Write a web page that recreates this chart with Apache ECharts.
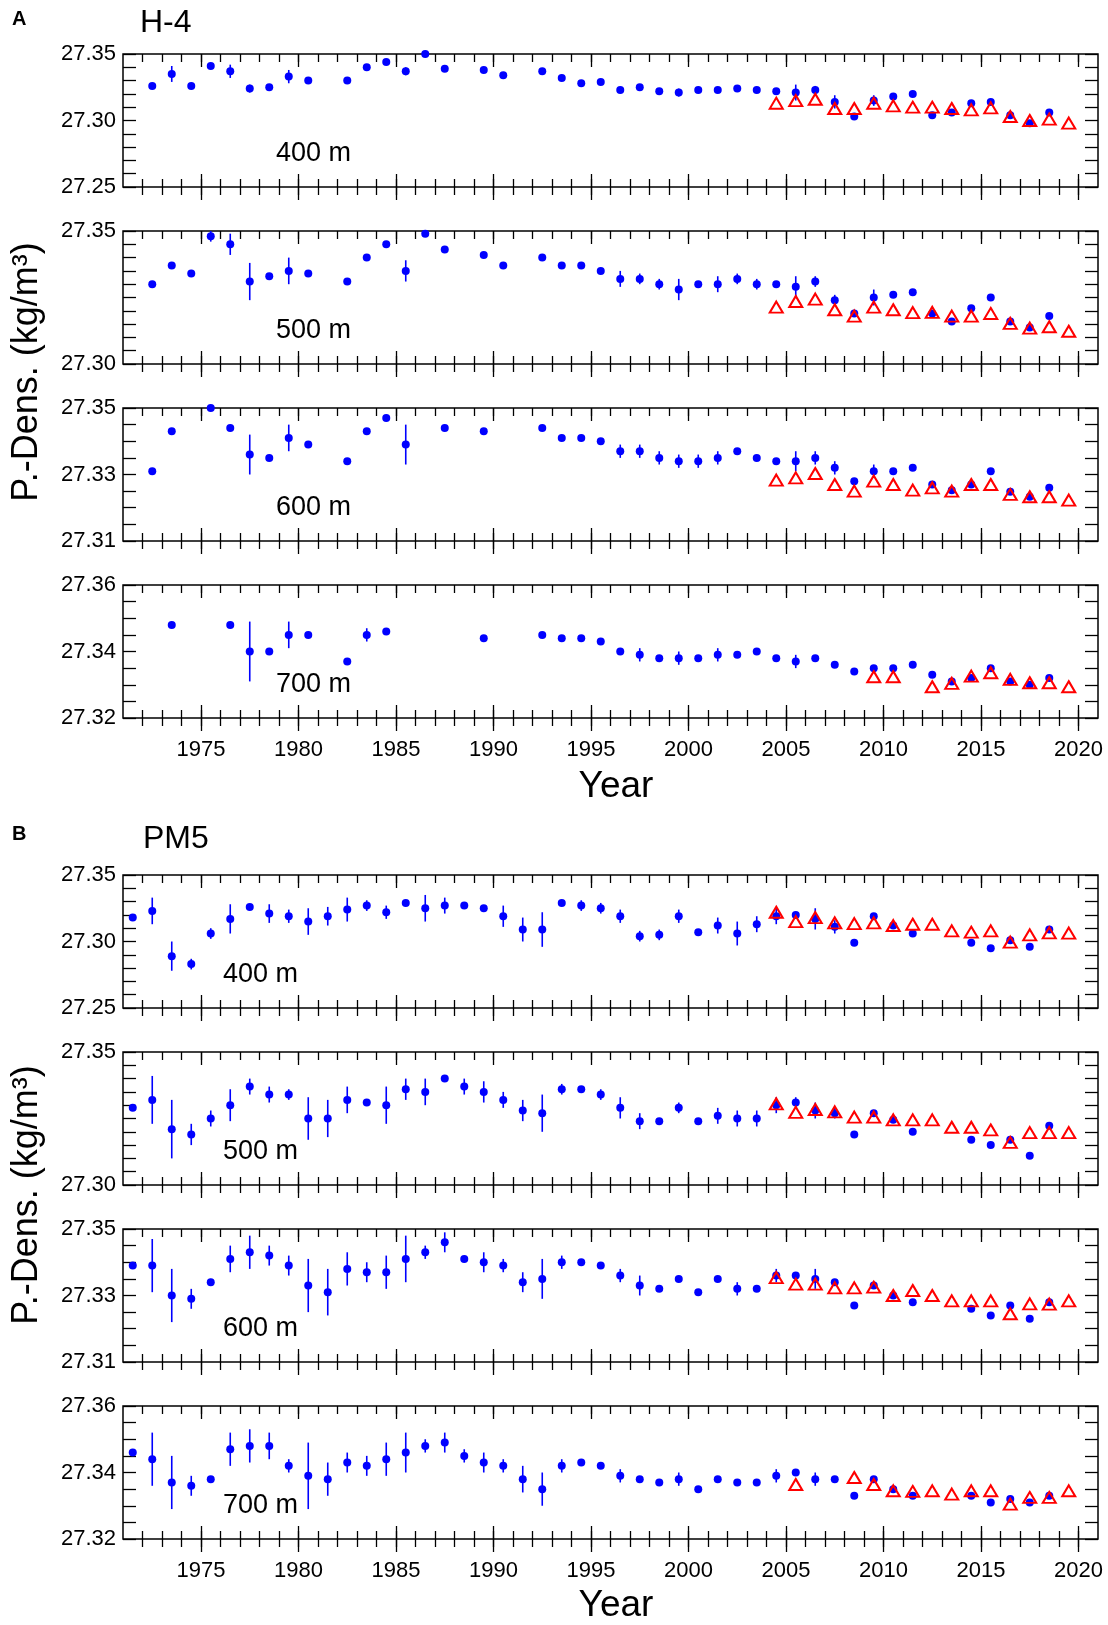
<!DOCTYPE html>
<html>
<head>
<meta charset="utf-8">
<script src="https://cdn.jsdelivr.net/npm/echarts@6/dist/echarts.min.js"></script>
<style>
  html, body { margin: 0; padding: 0; background: #fff; }
  #chart { width: 1108px; height: 1625px; }
</style>
</head>
<body>
<div id="chart"></div>
<script>
// sample positions (mid-year)
const yearsH4 = [1972.5, 1973.5, 1974.5, 1975.5, 1976.5, 1977.5, 1978.5, 1979.5, 1980.5, 1981.5,
  1982.5, 1983.5, 1984.5, 1985.5, 1986.5, 1987.5, 1988.5, 1989.5, 1990.5, 1991.5,
  1992.5, 1993.5, 1994.5, 1995.5, 1996.5, 1997.5, 1998.5, 1999.5, 2000.5, 2001.5,
  2002.5, 2003.5, 2004.5, 2005.5, 2006.5, 2007.5, 2008.5, 2009.5, 2010.5, 2011.5,
  2012.5, 2013.5, 2014.5, 2015.5, 2016.5, 2017.5, 2018.5, 2019.5];
const yearsPM5 = [1971.5, 1972.5, 1973.5, 1974.5, 1975.5, 1976.5, 1977.5, 1978.5, 1979.5, 1980.5,
  1981.5, 1982.5, 1983.5, 1984.5, 1985.5, 1986.5, 1987.5, 1988.5, 1989.5, 1990.5,
  1991.5, 1992.5, 1993.5, 1994.5, 1995.5, 1996.5, 1997.5, 1998.5, 1999.5, 2000.5,
  2001.5, 2002.5, 2003.5, 2004.5, 2005.5, 2006.5, 2007.5, 2008.5, 2009.5, 2010.5,
  2011.5, 2012.5, 2013.5, 2014.5, 2015.5, 2016.5, 2017.5, 2018.5, 2019.5];
const yearsTri = [2004.5, 2005.5, 2006.5, 2007.5, 2008.5, 2009.5, 2010.5, 2011.5,
  2012.5, 2013.5, 2014.5, 2015.5, 2016.5, 2017.5, 2018.5, 2019.5];

// x tick labels
const majorYears = [1975, 1980, 1985, 1990, 1995, 2000, 2005, 2010, 2015, 2020];
const minorYears = [1972, 1973, 1974, 1975, 1976, 1977, 1978, 1979, 1980, 1981, 1982, 1983,
  1984, 1985, 1986, 1987, 1988, 1989, 1990, 1991, 1992, 1993, 1994, 1995, 1996, 1997,
  1998, 1999, 2000, 2001, 2002, 2003, 2004, 2005, 2006, 2007, 2008, 2009, 2010, 2011,
  2012, 2013, 2014, 2015, 2016, 2017, 2018, 2019, 2020];

// y tick labels
const yTicks400 = [27.25, 27.30, 27.35];
const yTicks500 = [27.30, 27.35];
const yTicks600 = [27.31, 27.33, 27.35];
const yTicks700 = [27.32, 27.34, 27.36];

// H-4
const h4Dens400 = [27.326, 27.335, 27.326, 27.341, 27.337, 27.324, 27.325, 27.333, 27.330, null,
  27.330, 27.340, 27.344, 27.337, 27.350, 27.339, null, 27.338, 27.334, null,
  27.337, 27.332, 27.328, 27.329, 27.323, 27.325, 27.322, 27.321, 27.323, 27.323,
  27.324, 27.323, 27.322, 27.321, 27.323, 27.314, 27.303, 27.315, 27.318, 27.320,
  27.304, 27.306, 27.313, 27.314, 27.304, 27.298, 27.306, null];
const h4Err400 = [0, .006, 0, 0, .005, .003, 0, .005, 0, 0,
  0, 0, 0, .003, 0, 0, 0, 0, 0, 0,
  0, 0, 0, 0, 0, 0, 0, .003, 0, 0,
  0, 0, 0, .006, .003, .005, 0, .004, 0, 0,
  0, 0, 0, 0, 0, 0, 0, 0];
const h4Tri400 = [27.313, 27.315, 27.316, 27.309, 27.309, 27.313, 27.311, 27.310,
  27.310, 27.309, 27.308, 27.3095, 27.303, 27.300, 27.301, 27.298];

const h4Dens500 = [27.330, 27.337, 27.334, 27.348, 27.345, 27.331, 27.333, 27.335, 27.334, null,
  27.331, 27.340, 27.345, 27.335, 27.349, 27.343, null, 27.341, 27.337, null,
  27.340, 27.337, 27.337, 27.335, 27.332, 27.332, 27.330, 27.328, 27.330, 27.330,
  27.332, 27.330, 27.330, 27.329, 27.331, 27.324, 27.319, 27.325, 27.326, 27.327,
  27.319, 27.316, 27.321, 27.325, 27.316, 27.3137, 27.318, null];
const h4Err500 = [0, 0, 0, .002, .004, .007, 0, .005, 0, 0,
  0, 0, 0, .004, 0, 0, 0, 0, 0, 0,
  0, 0, 0, 0, .003, .002, .002, .004, 0, .003,
  .002, .002, 0, .004, .002, .002, 0, .003, 0, 0,
  0, 0, 0, 0, 0, 0, 0, 0];
const h4Tri500 = [27.3214, 27.3235, 27.3244, 27.3204, 27.318, 27.3214, 27.3204, 27.3193,
  27.3194, 27.318, 27.318, 27.319, 27.3153, 27.3135, 27.314, 27.3123];

const h4Dens600 = [27.331, 27.343, null, 27.350, 27.344, 27.336, 27.335, 27.341, 27.339, null,
  27.334, 27.343, 27.347, 27.339, null, 27.344, null, 27.343, null, null,
  27.344, 27.341, 27.341, 27.340, 27.337, 27.337, 27.335, 27.334, 27.334, 27.335,
  27.337, 27.335, 27.334, 27.334, 27.335, 27.332, 27.328, 27.331, 27.331, 27.332,
  27.327, 27.3253, 27.327, 27.331, 27.3248, 27.3233, 27.326, null];
const h4Err600 = [0, 0, 0, 0, 0, .006, 0, .004, 0, 0,
  0, 0, 0, .006, 0, 0, 0, 0, 0, 0,
  0, 0, 0, 0, .002, .002, .002, .002, .002, .002,
  0, 0, 0, .003, .002, .002, 0, .002, 0, 0,
  0, 0, 0, 0, 0, 0, 0, 0];
const h4Tri600 = [27.3283, 27.329, 27.3303, 27.327, 27.325, 27.328, 27.327, 27.3253,
  27.326, 27.325, 27.327, 27.327, 27.324, 27.3233, 27.3233, 27.3223];

const h4Dens700 = [null, 27.348, null, null, 27.348, 27.340, 27.340, 27.345, 27.345, null,
  27.337, 27.345, 27.346, null, null, null, null, 27.344, null, null,
  27.345, 27.344, 27.344, 27.343, 27.340, 27.339, 27.338, 27.338, 27.338, 27.339,
  27.339, 27.340, 27.338, 27.337, 27.338, 27.336, 27.334, 27.335, 27.335, 27.336,
  27.333, 27.331, 27.332, 27.335, 27.331, 27.330, 27.332, null];
const h4Err700 = [0, 0, 0, 0, 0, .009, 0, .004, 0, 0,
  0, .002, 0, 0, 0, 0, 0, 0, 0, 0,
  0, 0, 0, 0, 0, .002, 0, .002, 0, .002,
  0, 0, 0, .002, 0, 0, 0, 0, 0, 0,
  0, 0, 0, 0, 0, 0, 0, 0];
const h4Tri700 = [null, null, null, null, null, 27.3324, 27.3324, null,
  27.3294, 27.3304, 27.3326, 27.3336, 27.3316, 27.3306, 27.3306, 27.3294];

// PM5
const pm5Dens400 = [27.318, 27.323, 27.289, 27.283, 27.306, 27.317, 27.326, 27.321, 27.319, 27.315,
  27.319, 27.324, 27.327, 27.322, 27.329, 27.325, 27.327, 27.327, 27.325, 27.319,
  27.309, 27.309, 27.329, 27.327, 27.325, 27.319, 27.304, 27.305, 27.319, 27.307,
  27.312, 27.306, 27.313, 27.319, 27.320, 27.317, 27.311, 27.299, 27.319, 27.312,
  27.306, null, null, 27.299, 27.295, 27.301, 27.296, 27.309, null];
const pm5Err400 = [0, .010, .011, .004, .004, .011, 0, .007, .005, .010,
  .007, .009, .004, .005, 0, .010, .006, 0, 0, .008,
  .009, .013, 0, .004, .004, .005, .004, .004, .005, 0,
  .006, .009, .006, .006, 0, .008, .005, 0, 0, 0,
  0, 0, 0, 0, 0, 0, 0, 0, 0];
const pm5Tri400 = [27.322, 27.315, 27.318, 27.314, 27.3135, 27.314, 27.312, 27.313,
  27.313, 27.308, 27.307, 27.308, 27.2995, 27.305, 27.3065, 27.3063];

const pm5Dens500 = [27.329, 27.332, 27.321, 27.319, 27.325, 27.330, 27.337, 27.334, 27.334, 27.325,
  27.325, 27.332, 27.331, 27.330, 27.336, 27.335, 27.340, 27.337, 27.335, 27.332,
  27.328, 27.327, 27.336, 27.336, 27.334, 27.329, 27.324, 27.324, 27.329, 27.324,
  27.326, 27.325, 27.325, 27.330, 27.331, 27.328, 27.327, 27.319, 27.327, 27.3245,
  27.320, null, null, 27.317, 27.315, 27.317, 27.311, 27.3223, null];
const pm5Err500 = [0, .009, .011, .004, .003, .006, .003, .003, .002, .008,
  .007, .005, 0, .007, .004, .005, 0, .003, .004, .003,
  .004, .007, .002, 0, .002, .004, .003, 0, .002, 0,
  .003, .003, .003, .003, .002, .003, .002, 0, 0, 0,
  0, 0, 0, 0, 0, 0, 0, 0, 0];
const pm5Tri500 = [27.3305, 27.3273, 27.3284, 27.3275, 27.3255, 27.3255, 27.3245, 27.3245,
  27.3245, 27.3217, 27.3217, 27.3207, 27.316, 27.3197, 27.3197, 27.3197];

const pm5Dens600 = [27.339, 27.339, 27.330, 27.329, 27.334, 27.341, 27.343, 27.342, 27.339, 27.333,
  27.331, 27.338, 27.337, 27.337, 27.341, 27.343, 27.346, 27.341, 27.340, 27.339,
  27.334, 27.335, 27.340, 27.340, 27.339, 27.336, 27.333, 27.332, 27.335, 27.331,
  27.335, 27.332, 27.332, 27.336, 27.336, 27.335, 27.334, 27.327, 27.333, 27.330,
  27.328, null, null, 27.326, 27.324, 27.327, 27.323, 27.328, null];
const pm5Err600 = [0, .008, .008, .003, .001, .004, .005, .003, .003, .008,
  .007, .005, .003, .005, .007, .002, .003, 0, .003, .002,
  .003, .006, .002, 0, 0, .002, .003, 0, 0, 0,
  0, .002, 0, .002, 0, .003, 0, 0, 0, 0,
  0, 0, 0, 0, 0, 0, 0, 0, 0];
const pm5Tri600 = [27.3354, 27.3334, 27.3334, 27.3323, 27.3323, 27.3325, 27.330, 27.3315,
  27.330, 27.3284, 27.3284, 27.3284, 27.3245, 27.3275, 27.3274, 27.3284];

const pm5Dens700 = [27.346, 27.344, 27.337, 27.336, 27.338, 27.347, 27.348, 27.348, 27.342, 27.339,
  27.338, 27.343, 27.342, 27.344, 27.346, 27.348, 27.349, 27.345, 27.343, 27.342,
  27.338, 27.335, 27.342, 27.343, 27.342, 27.339, 27.338, 27.337, 27.338, 27.335,
  27.338, 27.337, 27.337, 27.339, 27.340, 27.338, 27.338, 27.333, 27.338, 27.335,
  27.333, null, null, 27.333, 27.331, 27.332, 27.331, 27.333, null];
const pm5Err700 = [0, .008, .008, .003, 0, .005, .005, .004, .002, .010,
  .005, .003, .003, .005, .006, .002, .003, .002, .003, .002,
  .004, .005, .002, 0, 0, .002, 0, 0, .002, 0,
  0, 0, 0, .002, 0, .002, 0, 0, 0, 0,
  0, 0, 0, 0, 0, 0, 0, 0, 0];
const pm5Tri700 = [null, 27.3364, null, null, 27.3385, 27.3364, 27.3345, 27.3343,
  27.3345, 27.3335, 27.3345, 27.3345, 27.3305, 27.3325, 27.3325, 27.3345];

const FONT = '"Liberation Sans", Arial, Helvetica, sans-serif';
const BLUE = '#0000ff';
const RED = '#ff0000';

const panels = [
  { years: yearsH4, dens: h4Dens400, err: h4Err400, tri: h4Tri400, ticks: yTicks400, minor: 5, name: '400 m', top: 54, lx: 276 },
  { years: yearsH4, dens: h4Dens500, err: h4Err500, tri: h4Tri500, ticks: yTicks500, minor: 10, name: '500 m', top: 231, lx: 276 },
  { years: yearsH4, dens: h4Dens600, err: h4Err600, tri: h4Tri600, ticks: yTicks600, minor: 4, name: '600 m', top: 408, lx: 276 },
  { years: yearsH4, dens: h4Dens700, err: h4Err700, tri: h4Tri700, ticks: yTicks700, minor: 4, name: '700 m', top: 585, lx: 276, last: true },
  { years: yearsPM5, dens: pm5Dens400, err: pm5Err400, tri: pm5Tri400, ticks: yTicks400, minor: 5, name: '400 m', top: 875, lx: 223 },
  { years: yearsPM5, dens: pm5Dens500, err: pm5Err500, tri: pm5Tri500, ticks: yTicks500, minor: 10, name: '500 m', top: 1052, lx: 223 },
  { years: yearsPM5, dens: pm5Dens600, err: pm5Err600, tri: pm5Tri600, ticks: yTicks600, minor: 4, name: '600 m', top: 1229, lx: 223 },
  { years: yearsPM5, dens: pm5Dens700, err: pm5Err700, tri: pm5Tri700, ticks: yTicks700, minor: 4, name: '700 m', top: 1406, lx: 223, last: true }
];
const GRID_H = 133;

function errRender(params, api) {
  const x = api.value(0), y = api.value(1), e = api.value(2);
  const a = api.coord([x, y - e]);
  const b = api.coord([x, y + e]);
  return {
    type: 'line',
    shape: { x1: a[0], y1: a[1], x2: b[0], y2: b[1] },
    style: { stroke: BLUE, lineWidth: 1.6 }
  };
}

const grid = [], xAxis = [], yAxis = [], series = [], graphic = [];
const tickLine = { color: '#000', width: 1.3 };

panels.forEach(function (p, i) {
  grid.push({
    left: 123, width: 975, top: p.top, height: GRID_H,
    show: true, borderColor: '#000', borderWidth: 1.5, backgroundColor: 'transparent'
  });
  const xBase = { gridIndex: i, type: 'value', min: 1971, max: 2021,
    axisLine: { show: false }, splitLine: { show: false }, axisLabel: { show: false } };
  // labels
  xAxis.push(Object.assign({}, xBase, {
    position: 'bottom', axisTick: { show: false },
    axisLabel: { show: !!p.last, customValues: majorYears, fontSize: 22, fontFamily: FONT, color: '#000', margin: 21,
      formatter: function (v) { return String(v); } }
  }));
  // bottom major ticks crossing the frame
  xAxis.push(Object.assign({}, xBase, {
    position: 'bottom', offset: -13,
    axisTick: { show: true, inside: false, length: 26, customValues: majorYears, lineStyle: tickLine }
  }));
  // bottom minor ticks crossing the frame
  xAxis.push(Object.assign({}, xBase, {
    position: 'bottom', offset: -8,
    axisTick: { show: true, inside: false, length: 16, customValues: minorYears, lineStyle: tickLine }
  }));
  // top ticks
  xAxis.push(Object.assign({}, xBase, {
    position: 'top',
    axisTick: { show: true, inside: true, length: 13, customValues: majorYears, lineStyle: tickLine }
  }));
  xAxis.push(Object.assign({}, xBase, {
    position: 'top',
    axisTick: { show: true, inside: true, length: 8, customValues: minorYears, lineStyle: tickLine }
  }));

  const ymin = p.ticks[0], ymax = p.ticks[p.ticks.length - 1];
  const step = +(p.ticks[1] - p.ticks[0]).toFixed(3);
  const yBase = { gridIndex: i, type: 'value', min: ymin, max: ymax, interval: step,
    axisLine: { show: false }, splitLine: { show: false },
    axisTick: { show: true, inside: true, length: 13, lineStyle: tickLine },
    minorTick: { show: true, splitNumber: p.minor, length: 13, lineStyle: tickLine } };
  yAxis.push(Object.assign({}, yBase, {
    position: 'left',
    axisLabel: { show: true, fontSize: 22, fontFamily: FONT, color: '#000', margin: 7,
      formatter: function (v) { return v.toFixed(2); } }
  }));
  yAxis.push(Object.assign({}, yBase, { position: 'right', axisLabel: { show: false } }));

  const dots = [], bars = [], tris = [];
  p.years.forEach(function (x, k) {
    if (p.dens[k] != null) {
      dots.push([x, p.dens[k]]);
      if (p.err[k] > 0) bars.push([x, p.dens[k], p.err[k]]);
    }
  });
  yearsTri.forEach(function (x, k) {
    if (p.tri[k] != null) tris.push([x, p.tri[k]]);
  });

  series.push({
    type: 'custom', xAxisIndex: i * 5, yAxisIndex: i * 2, renderItem: errRender,
    data: bars, z: 2, silent: true
  });
  series.push({
    type: 'scatter', xAxisIndex: i * 5, yAxisIndex: i * 2, data: dots,
    symbol: 'circle', symbolSize: 8, itemStyle: { color: BLUE, opacity: 1 }, z: 3, clip: false, silent: true
  });
  series.push({
    type: 'scatter', xAxisIndex: i * 5, yAxisIndex: i * 2, data: tris,
    symbol: 'triangle', symbolSize: [13, 11],
    itemStyle: { color: 'rgba(0,0,0,0)', borderColor: RED, borderWidth: 2, opacity: 1 }, z: 4, clip: false, silent: true
  });

  graphic.push({
    type: 'text', x: p.lx, y: p.top + 100,
    style: { text: p.name, font: '27px ' + FONT, fill: '#000', align: 'left', verticalAlign: 'middle',
      textAlign: 'left', textVerticalAlign: 'middle' }
  });
});

function label(text, x, y, font, align, rot) {
  return {
    type: 'text', x: x, y: y, rotation: rot || 0,
    style: { text: text, font: font, fill: '#000', align: align, verticalAlign: 'middle',
      textAlign: align, textVerticalAlign: 'middle' }
  };
}
graphic.push(label('A', 12, 19, 'bold 20px ' + FONT, 'left'));
graphic.push(label('H-4', 140, 23, '32px ' + FONT, 'left'));
graphic.push(label('B', 12, 834, 'bold 20px ' + FONT, 'left'));
graphic.push(label('PM5', 143, 839, '32px ' + FONT, 'left'));
graphic.push(label('Year', 616, 787, '37px ' + FONT, 'center'));
graphic.push(label('Year', 616, 1606, '37px ' + FONT, 'center'));
graphic.push(label('P.-Dens. (kg/m³)', 27, 372, '36px ' + FONT, 'center', Math.PI / 2));
graphic.push(label('P.-Dens. (kg/m³)', 27, 1195, '36px ' + FONT, 'center', Math.PI / 2));

const chart = echarts.init(document.getElementById('chart'), null, { renderer: 'canvas' });
chart.setOption({
  animation: false,
  backgroundColor: '#fff',
  grid: grid,
  xAxis: xAxis,
  yAxis: yAxis,
  series: series,
  graphic: graphic
});
</script>
</body>
</html>
